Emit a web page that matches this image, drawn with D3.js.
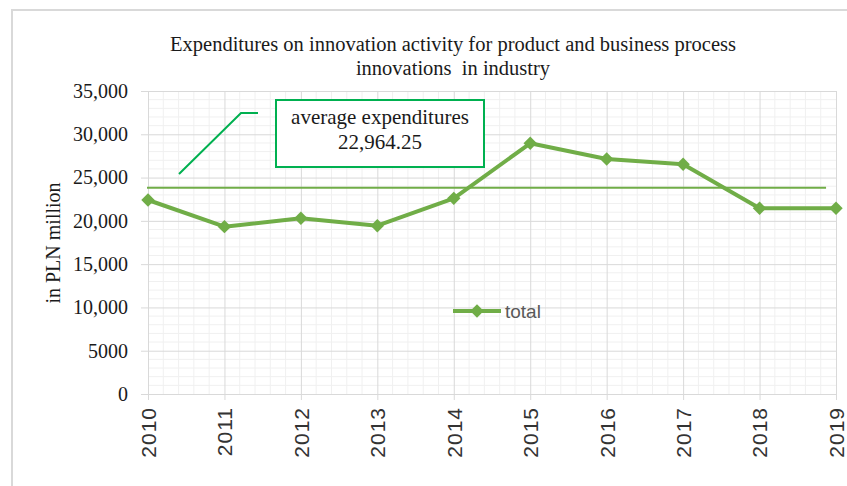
<!DOCTYPE html>
<html lang="en">
  <head>
    <meta charset="UTF-8">
    <title>Expenditures on innovation activity</title>
    <style>
      body { margin: 0; background: #fff; }
    </style>
  </head>
  <body>
    <div id="chart"></div>
    <script src="https://d3js.org/d3.v7.min.js"></script>
    <script>
      let width = 847;
      let height = 486;

      // data
      let years = [2010, 2011, 2012, 2013, 2014, 2015, 2016, 2017, 2018, 2019];
      let total = [22410, 19330, 20300, 19440, 22600, 28960, 27150, 26530, 21450, 21450];
      let yTicks = [0, 5000, 10000, 15000, 20000, 25000, 30000, 35000];
      let yTickLabels = ["0", "5000", "10,000", "15,000", "20,000", "25,000", "30,000", "35,000"];
      // the drawn "average" line sits a bit above the stated average
      let avgLineValue = 23830;
      let avgLabel = ["average expenditures", "22,964.25"];

      let green = "#70ad47";
      let calloutGreen = "#00b050";
      let serif = "'Liberation Serif', 'DejaVu Serif', serif";
      let sans = "'Liberation Sans', Arial, sans-serif";

      let svg = d3.select("#chart").append("svg").attr("width", width).attr("height", height);

      // outer frame
      svg.append("rect")
        .attr("x", 12).attr("y", 10)
        .attr("width", 850).attr("height", 500)
        .attr("fill", "none")
        .attr("stroke", "#d9d9d9")
        .attr("stroke-width", 2);

      let x = d3.scaleLinear().domain([2010, 2019]).range([148, 836]);
      let y = d3.scaleLinear().domain([0, 35000]).range([394, 91]);

      // minor grid
      let minorY = d3.range(0, 35001, 1000).filter(v => v % 5000 !== 0);
      let minorX = d3.range(2010, 2019.001, 0.2).filter(v => Math.abs(v - Math.round(v)) > 0.01);
      svg.append("g").selectAll("line").data(minorY).enter().append("line")
        .attr("x1", x(2010)).attr("x2", x(2019))
        .attr("y1", d => y(d)).attr("y2", d => y(d))
        .attr("stroke", "#f0f0f0").attr("stroke-width", 1);
      svg.append("g").selectAll("line").data(minorX).enter().append("line")
        .attr("x1", d => x(d)).attr("x2", d => x(d))
        .attr("y1", y(0)).attr("y2", y(35000))
        .attr("stroke", "#f0f0f0").attr("stroke-width", 1);

      // major grid via axes
      let yAxis = d3.axisLeft(y).tickValues(yTicks)
        .tickSize(-(x(2019) - x(2010)))
        .tickFormat((d, i) => yTickLabels[i]);
      let gy = svg.append("g").attr("transform", "translate(" + x(2010) + ",0)").call(yAxis);
      gy.select(".domain").remove();
      gy.selectAll(".tick line").attr("stroke", "#d9d9d9").attr("x1", -7);
      gy.selectAll(".tick text")
        .attr("x", -20)
        .attr("fill", "#1a1a1a")
        .style("font-family", serif)
        .style("font-size", "20px");

      let xAxis = d3.axisBottom(x).tickValues(years)
        .tickSize(-(y(0) - y(35000)))
        .tickFormat(d3.format("d"));
      let gx = svg.append("g").attr("transform", "translate(0," + y(0) + ")").call(xAxis);
      gx.select(".domain").remove();
      gx.selectAll(".tick line").attr("stroke", "#d9d9d9").attr("y1", 6);
      gx.selectAll(".tick text")
        .attr("transform", "rotate(-90)")
        .attr("x", -13)
        .attr("y", 0)
        .attr("dy", "0.35em")
        .attr("text-anchor", "end")
        .attr("fill", "#333")
        .style("font-family", sans)
        .style("font-size", "21px")
        .style("letter-spacing", "1px");

      // title
      let title = svg.append("text")
        .attr("text-anchor", "middle")
        .attr("fill", "#1a1a1a")
        .style("font-family", serif)
        .style("font-size", "20.5px")
        .style("white-space", "pre");
      title.append("tspan").attr("x", 453).attr("y", 51)
        .text("Expenditures on innovation activity for product and business process");
      title.append("tspan").attr("x", 453).attr("y", 75)
        .text("innovations  in industry");

      // y axis title
      svg.append("text")
        .attr("transform", "translate(60,243) rotate(-90)")
        .attr("text-anchor", "middle")
        .attr("fill", "#1a1a1a")
        .style("font-family", serif)
        .style("font-size", "20px")
        .text("in PLN million");

      // average line
      svg.append("line")
        .attr("x1", x(2010) - 1).attr("x2", x(2018.87))
        .attr("y1", y(avgLineValue)).attr("y2", y(avgLineValue))
        .attr("stroke", green).attr("stroke-width", 2);

      // series
      let line = d3.line().x((d, i) => x(years[i])).y(d => y(d));
      svg.append("path")
        .datum(total)
        .attr("d", line)
        .attr("fill", "none")
        .attr("stroke", green)
        .attr("stroke-width", 4)
        .attr("stroke-linejoin", "round");

      let diamond = d3.symbol().type(d3.symbolSquare).size(90);
      svg.append("g").selectAll("path").data(total).enter().append("path")
        .attr("d", diamond)
        .attr("transform", (d, i) => "translate(" + x(years[i]) + "," + y(d) + ") rotate(45)")
        .attr("fill", green);

      // callout
      svg.append("polyline")
        .attr("points", [[179, 174], [241, 113], [258, 113]].map(p => p.join(",")).join(" "))
        .attr("fill", "none")
        .attr("stroke", calloutGreen)
        .attr("stroke-width", 2);
      svg.append("rect")
        .attr("x", 276).attr("y", 100)
        .attr("width", 208).attr("height", 67)
        .attr("fill", "#fff")
        .attr("stroke", calloutGreen)
        .attr("stroke-width", 2);
      svg.append("g").selectAll("text").data(avgLabel).enter().append("text")
        .attr("x", 380)
        .attr("y", (d, i) => 124 + i * 25)
        .attr("text-anchor", "middle")
        .attr("fill", "#1a1a1a")
        .style("font-family", serif)
        .style("font-size", "21px")
        .text(d => d);

      // legend
      let lg = svg.append("g").attr("transform", "translate(453,311)");
      lg.append("line").attr("x1", 0).attr("x2", 48).attr("y1", 0).attr("y2", 0)
        .attr("stroke", green).attr("stroke-width", 4);
      lg.append("path").attr("d", diamond).attr("transform", "translate(24,0) rotate(45)").attr("fill", green);
      lg.append("text").attr("x", 52).attr("y", 0).attr("dy", "0.35em")
        .attr("fill", "#595959")
        .style("font-family", sans)
        .style("font-size", "19px")
        .text("total");
    </script>
  </body>
</html>
